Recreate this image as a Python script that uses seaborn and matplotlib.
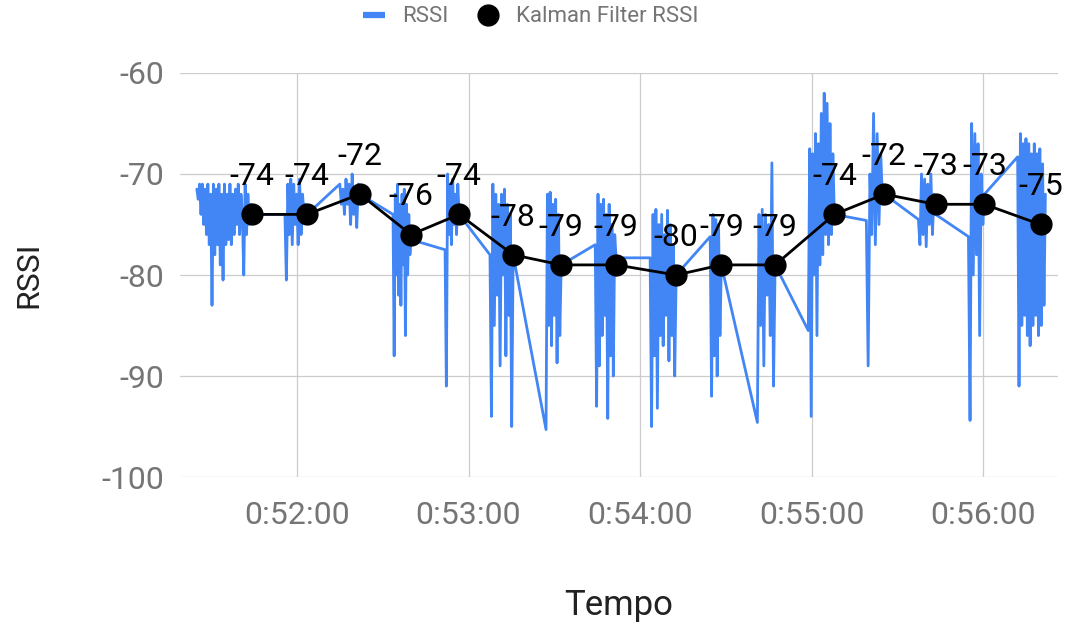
import numpy as np
import pandas as pd
import matplotlib
matplotlib.use("Agg")
import matplotlib.pyplot as plt
import seaborn as sns
from matplotlib.ticker import FuncFormatter
from matplotlib.lines import Line2D

# Raw RSSI readings, grouped in scan bursts: (first sample, last sample, values in dBm)
burst_01 = ("0:51:25.0", "0:51:44.3",
            [-71.5, -72.5, -71, -74, -71, -75, -71.5, -76, -71, -77, -72, -83, -71, -78,
             -71.5, -77, -71, -79, -72, -80.5, -71, -77, -72, -76.5, -71, -77, -72, -76,
             -71.5, -75, -71, -76, -72, -74, -80, -71, -76, -72, -75, -73, -74])
burst_02 = ("0:51:55.8", "0:52:03.5",
            [-74, -80.5, -71, -76, -70.5, -77, -71, -75, -72, -77, -70.5, -76, -72, -74, -73, -74])
burst_03 = ("0:52:15.0", "0:52:22.0",
            [-71, -73, -71.5, -74, -70.5, -73, -71, -75, -70, -74, -72, -75.3, -71, -72])
burst_04 = ("0:52:33.6", "0:52:39.9",
            [-74, -88, -72, -80, -71, -82, -73, -83, -72, -79, -71.5, -86, -73, -80, -74, -78, -76.5])
burst_05 = ("0:52:51.8", "0:52:56.7",
            [-77.5, -91, -70, -76, -71, -77, -70.5, -75, -72, -76, -71, -74])
burst_06 = ("0:53:07.5", "0:53:15.6",
            [-78, -94, -71, -85, -72, -82, -73, -89, -72, -80, -71.5, -88, -73, -84, -74, -95, -78])
burst_07 = ("0:53:27.1", "0:53:32.4",
            [-95.3, -72, -85, -71.8, -87, -73, -84, -72.5, -88.7, -74, -86, -79])
burst_08 = ("0:53:44.3", "0:53:51.6",
            [-77, -93, -72, -89, -73, -86, -72.5, -84, -74, -94.2, -73, -88, -75, -90, -76, -78.3])
burst_09 = ("0:54:03.5", "0:54:12.6",
            [-78.3, -95, -74, -88, -73.5, -93.2, -75, -86, -74, -87, -76, -84, -73.6, -88.5,
             -75, -86, -77, -90, -80])
burst_10 = ("0:54:24.5", "0:54:28.4",
            [-76.2, -92, -74, -88, -74.5, -90, -75, -86, -79])
burst_11 = ("0:54:41.0", "0:54:47.2",
            [-94.6, -74, -85, -73.5, -89, -74, -82, -75, -86, -68.9, -91, -79])
burst_12 = ("0:54:58.8", "0:55:07.9",
            [-85.5, -67.5, -94, -68, -80, -66, -86, -67, -79, -64, -78, -62, -76, -63, -77,
             -65, -76, -68, -74])
burst_13 = ("0:55:19.1", "0:55:25.4",
            [-74.6, -89, -70, -76, -64, -77, -66, -75, -68, -73, -72])
burst_14 = ("0:55:37.3", "0:55:43.3",
            [-74.5, -77, -70, -76, -70.5, -77.2, -71, -75, -70, -76, -72, -74])
burst_15 = ("0:55:54.8", "0:56:00.4",
            [-76.2, -94.4, -65, -80, -66, -78, -67, -86, -70, -75, -72])
burst_16 = ("0:56:12.0", "0:56:21.7",
            [-68.3, -91, -66, -85, -67, -84, -66.5, -86, -67, -87, -68, -85, -67, -84, -68,
             -86, -67.5, -85, -69, -83, -72])

# Kalman-filtered estimate, one value per burst
kalman_times = ["0:51:44.3", "0:52:03.5", "0:52:22.0", "0:52:39.9", "0:52:56.7", "0:53:15.6",
                "0:53:32.4", "0:53:51.6", "0:54:12.6", "0:54:28.4", "0:54:47.2", "0:55:07.9",
                "0:55:25.4", "0:55:43.3", "0:56:00.4", "0:56:20.0"]
kalman_rssi = [-74, -74, -72, -76, -74, -78, -79, -79, -80, -79, -79, -74, -72, -73, -73, -75]

x_tick_labels = ["0:52:00", "0:53:00", "0:54:00", "0:55:00", "0:56:00"]
y_ticks = [-60, -70, -80, -90, -100]


def to_seconds(stamp):
    h, m, s = stamp.split(":")
    return int(h) * 3600 + int(m) * 60 + float(s)


def fmt_time(sec, _pos=None):
    sec = int(round(sec))
    return f"{sec // 3600}:{(sec % 3600) // 60:02d}:{sec % 60:02d}"


bursts = [burst_01, burst_02, burst_03, burst_04, burst_05, burst_06, burst_07, burst_08,
          burst_09, burst_10, burst_11, burst_12, burst_13, burst_14, burst_15, burst_16]
frames = []
for start, end, vals in bursts:
    t = np.linspace(to_seconds(start), to_seconds(end), len(vals))
    frames.append(pd.DataFrame({"t": t, "rssi": vals}))
rssi_df = pd.concat(frames, ignore_index=True)
kalman_df = pd.DataFrame({"t": [to_seconds(s) for s in kalman_times], "rssi": kalman_rssi})

sns.set_theme(style="white")
plt.rcParams["font.family"] = ["Roboto", "DejaVu Sans"]
plt.rcParams["axes.unicode_minus"] = False

BLUE = "#4285F4"
fig = plt.figure(figsize=(10.68, 6.26), dpi=100)
ax = fig.add_axes([0.1685, 0.238, 0.8221, 0.6454])

sns.lineplot(data=rssi_df, x="t", y="rssi", ax=ax, color=BLUE, lw=2.0,
             estimator=None, sort=False, legend=False, zorder=2)
sns.lineplot(data=kalman_df, x="t", y="rssi", ax=ax, color="black", lw=2.0,
             marker="o", markersize=16, markeredgewidth=0, estimator=None,
             legend=False, zorder=3)

for t, v in zip(kalman_df["t"], kalman_df["rssi"]):
    ax.annotate(f"{v}", (t, v), xytext=(0, 21), textcoords="offset points",
                ha="center", va="baseline", fontsize=23, color="black", zorder=4)

ax.set_xlim(to_seconds("0:51:19.1"), to_seconds("0:56:26.1"))
ax.set_ylim(-100, -60)
ax.set_xticks([to_seconds(s) for s in x_tick_labels])
ax.xaxis.set_major_formatter(FuncFormatter(fmt_time))
ax.set_yticks(y_ticks)

ax.grid(True, color="#cccccc", lw=0.9)
ax.set_axisbelow(True)
for sp in ax.spines.values():
    sp.set_visible(False)

ax.tick_params(axis="both", length=0, labelsize=23, labelcolor="#757575")
ax.tick_params(axis="x", pad=17)
ax.tick_params(axis="y", pad=11)
ax.set_xlabel("Tempo", fontsize=25, color="#222222", labelpad=43)
ax.set_ylabel("RSSI", fontsize=23, color="#222222", labelpad=42)

handles = [Line2D([], [], color=BLUE, lw=4.5, solid_capstyle="butt"),
           Line2D([], [], color="black", marker="o", ls="none", markersize=16, markeredgewidth=0)]
fig.legend(handles, ["RSSI", "Kalman Filter RSSI"], loc="center",
           bbox_to_anchor=(0.497, 1 - 17 / 626), ncol=2, frameon=False, fontsize=16,
           labelcolor="#757575", handlelength=1.0, handletextpad=0.75, columnspacing=1.3)

fig.savefig("out.png", dpi=100)
